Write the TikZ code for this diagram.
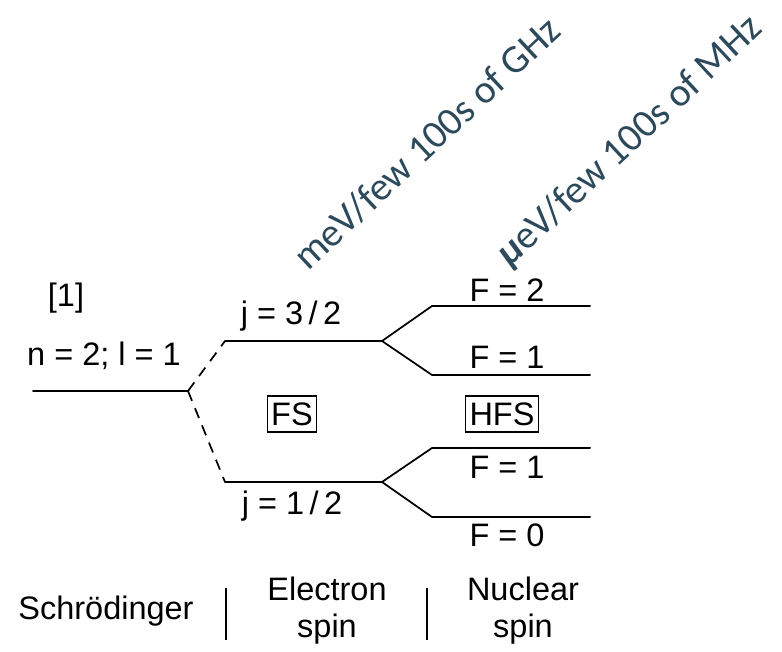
\documentclass[tikz,border=0pt]{standalone}
\usepackage{fontspec}
\setmainfont{Liberation Sans}
\newfontfamily\calib{Carlito}
\usetikzlibrary{positioning}
\definecolor{ScaleBlue}{HTML}{2C4A5C}

\begin{document}
\begin{tikzpicture}[
  x=0.0265cm, y=-0.0265cm,
  level/.style={line width=1.5pt,line cap=round},
  split/.style={line width=1.3pt},
  dashsplit/.style={line width=1.3pt,dash pattern=on 8pt off 6pt},
  lbl/.style={font=\fontsize{24.5}{28}\selectfont,inner sep=0pt},
  boxlbl/.style={lbl,draw,line width=1.1pt,inner xsep=3pt,minimum height=27pt},
  ratelbl/.style={font=\calib\fontsize{30}{34}\selectfont,text=ScaleBlue,rotate=43,anchor=base west,inner sep=0pt},
  sep/.style={line width=1.2pt}
]
\useasboundingbox (0,0) rectangle (782,652);
% level end points
\coordinate (n0) at (33,391);   \coordinate (n1) at (188,391);
\coordinate (ja0) at (225,341); \coordinate (ja1) at (382,341);
\coordinate (jb0) at (225,482); \coordinate (jb1) at (382,482);
\coordinate (f2a) at (432,306); \coordinate (f2b) at (590,306);
\coordinate (f1a) at (432,375); \coordinate (f1b) at (590,375);
\coordinate (g1a) at (432,448); \coordinate (g1b) at (590,448);
\coordinate (g0a) at (432,517); \coordinate (g0b) at (590,517);
% levels
\draw[level] (n0) -- (n1);
\draw[level] (ja0) -- (ja1);
\draw[level] (jb0) -- (jb1);
\draw[level] (f2a) -- (f2b);
\draw[level] (f1a) -- (f1b);
\draw[level] (g1a) -- (g1b);
\draw[level] (g0a) -- (g0b);
% splittings
\draw[dashsplit] (n1) -- (ja0);
\draw[dashsplit] (n1) -- (jb0);
\draw[split] (ja1) -- (f2a);
\draw[split] (ja1) -- (f1a);
\draw[split] (jb1) -- (g1a);
\draw[split] (jb1) -- (g0a);
% labels
\node[lbl] (ref) at (66,298) {[1]};
\node[lbl] (nl) at (104,356) {n = 2; l = 1};
\node[lbl] (j32) at (291,316) {j = 3\,/\,2};
\node[lbl] (j12) at (292,506) {j = 1\,/\,2};
\node[lbl] (F2) at (507,290) {F = 2};
\node[lbl] (F1u) at (507,357) {F = 1};
\node[lbl] (F1l) at (507,467) {F = 1};
\node[lbl] (F0) at (507,535) {F = 0};
\node[boxlbl] (fs) at (292,414) {FS};
\node[boxlbl] (hfs) at (502,414) {HFS};
% energy scales
\node[ratelbl] (fsrate) at (308,272) {meV/few 100s of GHz};
\node[ratelbl] (hfsrate) at (510,268) {{\bfseries\itshape μ}eV/few 100s of MHz};
% bottom row
\node[lbl] (schr) at (106,611) {Schrödinger};
\node[lbl,align=center] (espin) at (327,611) {Electron\\spin};
\node[lbl,align=center] (nspin) at (523,611) {Nuclear\\spin};
\coordinate (s1a) at (226,588); \coordinate (s1b) at (226,640);
\coordinate (s2a) at (427,588); \coordinate (s2b) at (427,640);
\draw[sep] (s1a) -- (s1b);
\draw[sep] (s2a) -- (s2b);
\end{tikzpicture}
\end{document}
